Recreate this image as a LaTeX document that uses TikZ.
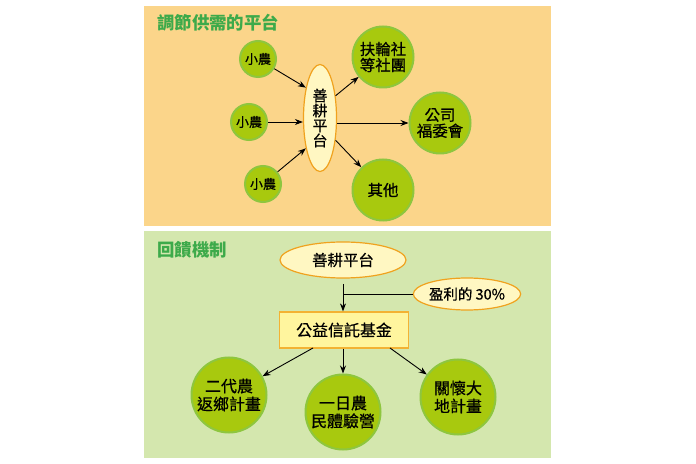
\documentclass[tikz,border=0pt]{standalone}
\usepackage{fontspec}
\setmainfont{Noto Sans CJK TC}[RawFeature={embolden=0.7}]
\newfontfamily\plainfont{Noto Sans CJK TC}
\usetikzlibrary{arrows.meta,shapes.geometric}
\definecolor{bgorange}{HTML}{FBD58A}
\definecolor{bggreen}{HTML}{D4E7AE}
\definecolor{cfill}{HTML}{A8C90E}
\definecolor{cedge}{HTML}{8EC63F}
\definecolor{efill}{HTML}{FFF7C2}
\definecolor{eedge}{HTML}{F0A21E}
\definecolor{rfill}{HTML}{FFF59E}
\definecolor{redge}{HTML}{F3B233}
\definecolor{titlegreen}{HTML}{3DAA4A}
\tikzset{
  smallc/.style={circle,fill=cfill,draw=cedge,line width=2bp,minimum size=36bp,inner sep=0pt,font=\fontsize{13}{14}\selectfont},
  bigc/.style={circle,fill=cfill,draw=cedge,line width=2bp,minimum size=61bp,inner sep=0pt,align=center,font=\fontsize{15.5}{16}\selectfont},
  botc/.style={circle,fill=cfill,draw=cedge,line width=2bp,minimum size=75bp,inner sep=0pt,align=center,font=\fontsize{16}{18}\selectfont},
  plat/.style={ellipse,fill=efill,draw=eedge,line width=1.2bp,inner sep=0pt},
  conn/.style={-{Stealth[length=8bp,width=6bp]},line width=0.9bp,black},
  ttl/.style={anchor=west,text=titlegreen,font=\plainfont\fontsize{17.5}{18}\selectfont\bfseries,inner sep=0pt},
}
\begin{document}
\begin{tikzpicture}[x=1bp,y=-1bp]
\useasboundingbox (0,0) rectangle (696,464);
\fill[white] (0,0) rectangle (696,464);
\fill[bgorange] (144,6) rectangle (551,226);
\fill[bggreen] (144,231) rectangle (551,458);
% top panel
\node[ttl] (t1) at (157,23) {調節供需的平台};
\node[plat,minimum width=33bp,minimum height=107bp,align=center,font=\fontsize{15}{15}\selectfont] (p1) at (320,118) {善\\耕\\平\\台};
\node[smallc] (f1) at (258,59) {小農};
\node[smallc] (f2) at (249,122) {小農};
\node[smallc] (f3) at (263,184) {小農};
\node[bigc] (o1) at (383,57) {扶輪社\\等社團};
\node[bigc] (o2) at (440,123) {公司\\福委會};
\node[bigc] (o3) at (383,190) {其他};
\draw[conn] (f1) -- (p1.170-55);
\draw[conn] (f2) -- (f2 -| p1.west);
\draw[conn] (f3) -- (p1.-170+55);
\draw[conn] (p1.55) -- (o1);
\draw[conn] (p1.east |- o2) -- (o2);
\draw[conn] (p1.-55) -- (o3);
% bottom panel
\node[ttl] (t2) at (157,250) {回饋機制};
\node[plat,minimum width=126bp,minimum height=36bp,font=\fontsize{15.5}{16}\selectfont] (p2) at (343,260) {善耕平台};
\node[plat,minimum width=103bp,minimum height=32bp,font=\fontsize{14.5}{15}\selectfont] (g) at (467,294) {盈利的 30\%};
\node[rectangle,fill=rfill,draw=redge,line width=1.2bp,minimum width=129bp,minimum height=36bp,font=\fontsize{16}{17}\selectfont] (r) at (344,330) {公益信託基金};
\coordinate (top) at (343,284);
\coordinate (jn) at (343,294);
\draw[line width=0.9bp] (top) -- (jn);
\draw[line width=0.9bp] (jn) -- (g.west);
\draw[conn] (jn) -- (jn |- r.north);
\node[botc] (b1) at (229,395) {二代農\\返鄉計畫};
\node[botc] (b2) at (343,412) {一日農\\民體驗營};
\node[botc] (b3) at (458,397) {關懷大\\地計畫};
\coordinate (s1) at (313,348);
\coordinate (s3) at (390,348);
\draw[conn] (s1) -- (b1);
\draw[conn] (r.south -| b2) -- (b2);
\draw[conn] (s3) -- (b3);
\end{tikzpicture}
\end{document}
